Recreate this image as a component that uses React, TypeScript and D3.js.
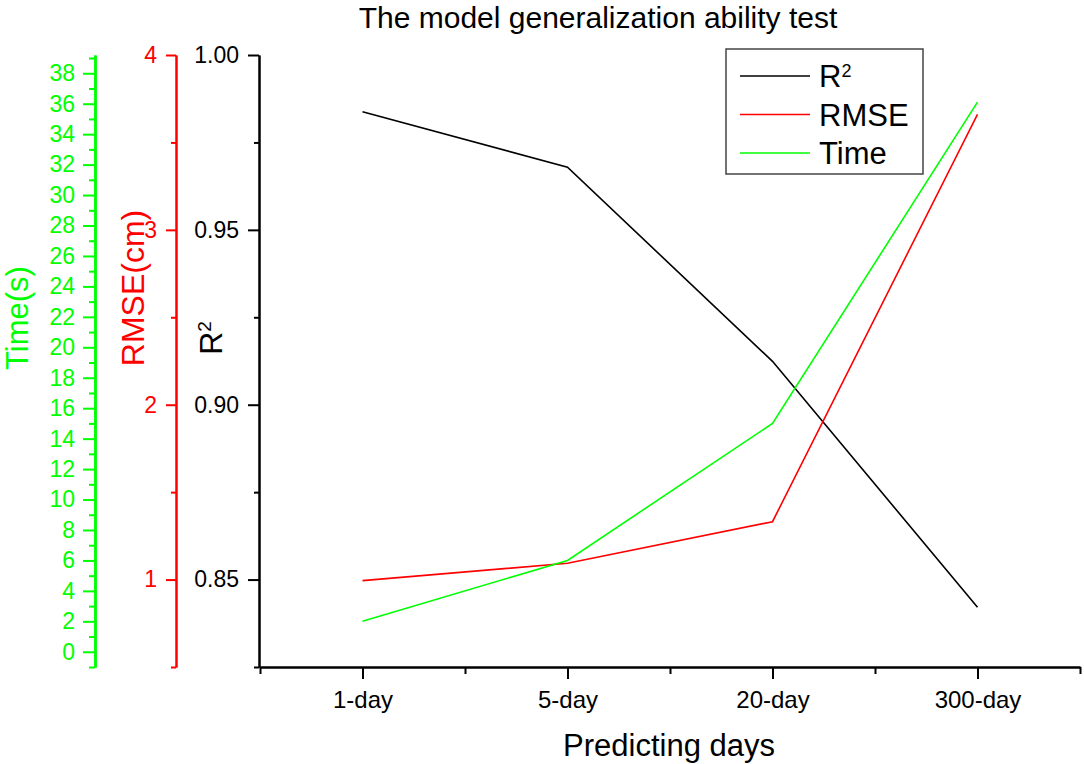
import { useEffect, useRef } from "react";
import { axisBottom, axisLeft, line, scaleLinear, select } from "d3";

const categories = ["1-day", "5-day", "20-day", "300-day"];
const r2Values = [0.9838, 0.9679, 0.9124, 0.8421];
const rmseValues = [0.994, 1.093, 1.331, 3.661];
const timeValues = [2.0, 6.0, 15.0, 36.1];

const r2Ticks = [0.85, 0.9, 0.95, 1.0];
const r2Minor = [0.825, 0.875, 0.925, 0.975];
const rmseTicks = [1, 2, 3, 4];
const rmseMinor = [0.5, 1.5, 2.5, 3.5];
const timeTicks = [0, 2, 4, 6, 8, 10, 12, 14, 16, 18, 20, 22, 24, 26, 28, 30, 32, 34, 36, 38];
const timeMinor = [-1, 1, 3, 5, 7, 9, 11, 13, 15, 17, 19, 21, 23, 25, 27, 29, 31, 33, 35, 37, 39];

const GREEN = "#00ff00";
const RED = "#ff0000";
const FONT = "'Liberation Sans', Arial, sans-serif";

export default function App() {
  const ref = useRef<SVGSVGElement>(null);

  useEffect(() => {
    const width = 1084;
    const height = 764;
    const top = 55;
    const bottom = 667;

    const svg = select(ref.current);
    svg.selectAll("*").remove();
    svg.attr("width", width).attr("height", height);

    const x = scaleLinear().domain([0.5, 4.5]).range([260, 1080]);
    const yR2 = scaleLinear().domain([0.825, 1.0]).range([bottom, top]);
    const yRmse = scaleLinear().domain([0.5, 4]).range([bottom, top]);
    const yTime = scaleLinear().domain([-1, 39.2]).range([bottom, top]);

    // left axes: minor ticks first, then major ticks with labels
    const leftAxis = (
      scale: any,
      majors: number[],
      minors: number[],
      xPos: number,
      color: string,
      majorLen: number,
      minorLen: number,
      pad: number,
      fmt: (d: number) => string,
      sw: number
    ) => {
      const g = svg.append("g").attr("transform", `translate(${xPos},0)`);
      g.append("g").call(
        axisLeft(scale).tickValues(minors).tickSize(minorLen).tickSizeOuter(0).tickFormat(() => "")
      );
      g.append("g").call(
        axisLeft(scale).tickValues(majors).tickSize(majorLen).tickSizeOuter(0).tickPadding(pad).tickFormat(fmt as any)
      );
      g.selectAll("path.domain").attr("stroke", color).attr("stroke-width", sw);
      g.selectAll(".tick line").attr("stroke", color).attr("stroke-width", 2);
      g.selectAll("text")
        .attr("fill", color)
        .style("font-size", "23px")
        .style("font-family", FONT);
    };

    leftAxis(yTime, timeTicks, timeMinor, 95, GREEN, 12, 6, 8, (d) => String(d), 2.5);
    leftAxis(yRmse, rmseTicks, rmseMinor, 176, RED, 10, 5, 9, (d) => String(d), 2);
    leftAxis(yR2, r2Ticks, r2Minor, 259, "#000", 11, 5, 9, (d) => d.toFixed(2), 2);

    // x axis
    const gx = svg.append("g").attr("transform", `translate(0,${bottom})`);
    gx.append("g").call(
      axisBottom(x).tickValues([0.5, 1.5, 2.5, 3.5, 4.5]).tickSize(7).tickSizeOuter(0).tickFormat(() => "")
    );
    gx.append("g").call(
      axisBottom(x)
        .tickValues([1, 2, 3, 4])
        .tickSize(12)
        .tickSizeOuter(0)
        .tickPadding(12)
        .tickFormat((d: any) => categories[Number(d) - 1])
    );
    gx.selectAll("path.domain").attr("stroke", "#000").attr("stroke-width", 2);
    gx.selectAll(".tick line").attr("stroke", "#000").attr("stroke-width", 2);
    gx.selectAll("text").attr("fill", "#000").style("font-size", "24px").style("font-family", FONT);

    // series
    const series: Array<[number[], any, string]> = [
      [r2Values, yR2, "#000"],
      [rmseValues, yRmse, RED],
      [timeValues, yTime, GREEN],
    ];
    series.forEach(([vals, scale, color]) => {
      const gen = line<number>()
        .x((_, i) => x(i + 1))
        .y((d) => scale(d));
      svg.append("path")
        .attr("d", gen(vals) as string)
        .attr("fill", "none")
        .attr("stroke", color)
        .attr("stroke-width", 1.6);
    });

    // title
    svg.append("text")
      .attr("x", 598)
      .attr("y", 28)
      .attr("text-anchor", "middle")
      .style("font-size", "30px")
      .style("font-family", FONT)
      .text("The model generalization ability test");

    // x axis title
    svg.append("text")
      .attr("x", 669)
      .attr("y", 756)
      .attr("text-anchor", "middle")
      .style("font-size", "31px")
      .style("font-family", FONT)
      .text("Predicting days");

    // y axis titles
    svg.append("text")
      .attr("transform", "translate(28,318) rotate(-90)")
      .attr("text-anchor", "middle")
      .attr("fill", GREEN)
      .style("font-size", "31px")
      .style("font-family", FONT)
      .text("Time(s)");
    svg.append("text")
      .attr("transform", "translate(144,288) rotate(-90)")
      .attr("text-anchor", "middle")
      .attr("fill", RED)
      .style("font-size", "32px")
      .style("font-family", FONT)
      .text("RMSE(cm)");
    const r2Title = svg.append("text")
      .attr("transform", "translate(222,338) rotate(-90)")
      .attr("text-anchor", "middle")
      .attr("fill", "#000")
      .style("font-size", "32px")
      .style("font-family", FONT);
    r2Title.append("tspan").text("R");
    r2Title.append("tspan").attr("dy", "-0.6em").style("font-size", "19px").text("2");

    // legend
    const lg = svg.append("g");
    lg.append("rect")
      .attr("x", 726)
      .attr("y", 49)
      .attr("width", 197)
      .attr("height", 125)
      .attr("fill", "#fff")
      .attr("stroke", "#444")
      .attr("stroke-width", 1.5);
    const items: Array<[string, string]> = [
      ["R", "#000"],
      ["RMSE", RED],
      ["Time", GREEN],
    ];
    items.forEach(([label, color], i) => {
      const yy = 76 + i * 38.5;
      lg.append("line")
        .attr("x1", 740)
        .attr("x2", 810)
        .attr("y1", yy)
        .attr("y2", yy)
        .attr("stroke", color)
        .attr("stroke-width", 1.6);
      const t = lg.append("text")
        .attr("x", 819)
        .attr("y", yy)
        .attr("dy", "0.36em")
        .style("font-size", "31px")
        .style("font-family", FONT);
      t.append("tspan").text(label);
      if (i === 0) {
        t.append("tspan").attr("dy", "-0.55em").style("font-size", "18px").text("2");
      }
    });
  }, []);

  return (
    <svg
      ref={ref}
      style={{ position: "absolute", left: 0, top: 0, background: "#fff" }}
    />
  );
}
